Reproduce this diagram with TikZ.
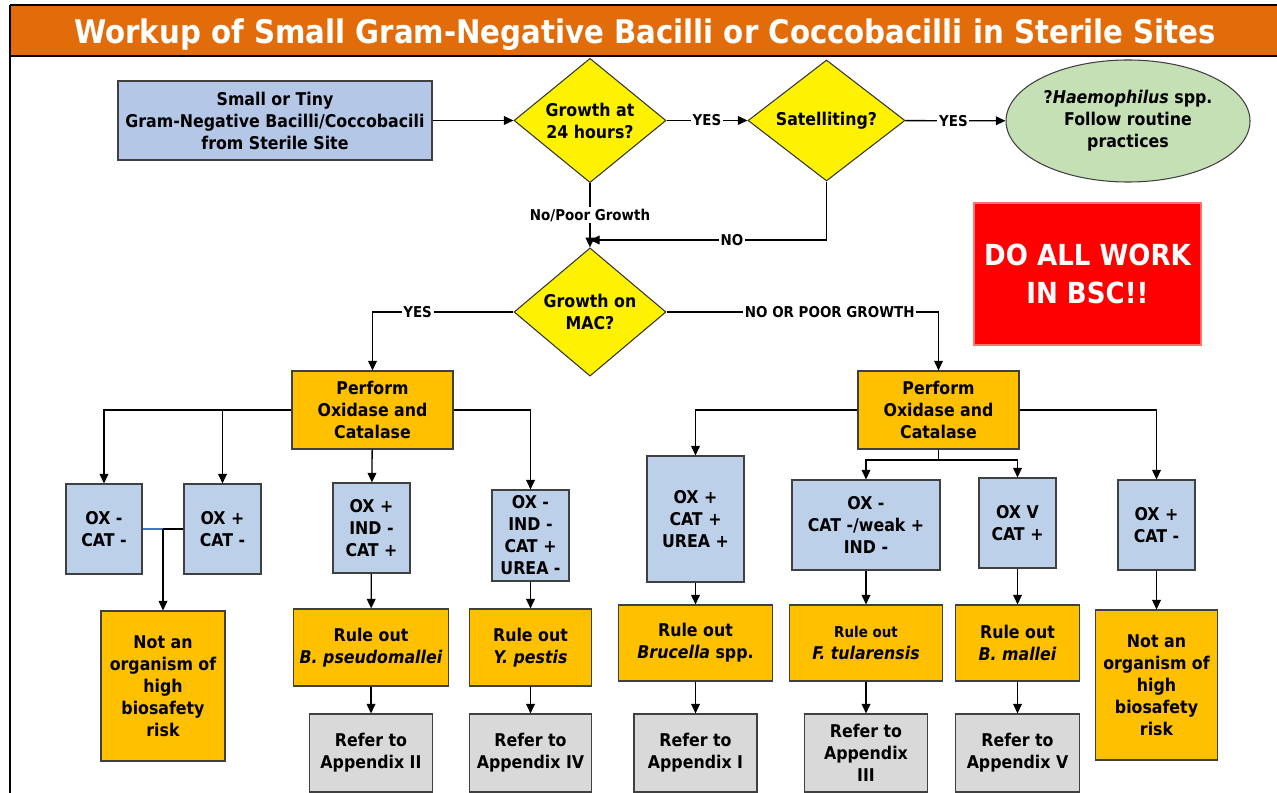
\documentclass[tikz,border=0pt]{standalone}
\usepackage{fontspec}
\setmainfont{DejaVu Sans Condensed}
\usetikzlibrary{shapes.geometric,arrows.meta}
\definecolor{titleorange}{HTML}{E36C0A}
\definecolor{startblue}{HTML}{B4C7E7}
\definecolor{testblue}{HTML}{BDD0E9}
\definecolor{amber}{HTML}{FFC000}
\definecolor{refgray}{HTML}{D9D9D9}
\definecolor{leafgreen}{HTML}{C5E0B4}
\definecolor{linkblue}{HTML}{4472C4}
\tikzset{
  wh/.style 2 args={minimum width=#1*0.02cm, minimum height=#2*0.02cm},
  base/.style={draw=black!75, line width=0.6pt, align=center, inner sep=0pt,
    font=\fontsize{10}{12.5}\selectfont\bfseries},
  startbox/.style={base, fill=startblue},
  question/.style={base, diamond, fill=yellow, draw=black!80},
  testbox/.style={base, fill=testblue},
  actbox/.style={base, fill=amber},
  refbox/.style={base, fill=refgray},
  arr/.style={-{Triangle[length=5.5pt,width=5pt]}, line width=0.75pt},
  link/.style={line width=0.75pt},
  lbl/.style={fill=white, inner sep=1pt, font=\fontsize{8.5}{10}\selectfont\bfseries},
}
\begin{document}
\begin{tikzpicture}[x=0.02cm, y=-0.02cm]
\useasboundingbox (0,0) rectangle (1277,793);

% title bar and frame
\fill[titleorange] (10,6) rectangle (1277,55);
\draw[line width=1.2pt] (10,5) -- (1277,5);
\draw[line width=1.2pt] (10,56) -- (1277,56);
\draw[line width=1.2pt] (10,5) -- (10,793);
\node[text=white, font=\fontsize{18.5}{22}\selectfont\bfseries] (title) at (645,35)
  {Workup of Small Gram-Negative Bacilli or Coccobacilli in Sterile Sites};

% top row
\node[startbox, wh={314}{79}] (start) at (275,120.5) {Small or Tiny\\Gram-Negative Bacilli/Coccobacili\\from Sterile Site};
\node[question, wh={152}{121}] (grow24) at (590,120.5) {Growth at\\24 hours?};
\node[question, wh={157}{121}] (satel) at (826.5,120.5) {Satelliting?};
\node[base, ellipse, fill=leafgreen, wh={244}{122}] (haem) at (1128,121) {?\textit{Haemophilus} spp.\\Follow routine\\practices};
\node[base, fill=red, draw=red!55, text=white, wh={227}{142},
  font=\fontsize{16.5}{21.5}\selectfont\bfseries] (bsc) at (1087.5,274) {DO ALL WORK\\IN BSC!!};

\node[question, wh={152}{122}] (mac) at (590,312) {Growth on\\MAC?};
\coordinate (merge) at (590,240);

% oxidase / catalase
\node[actbox, wh={161}{78}] (oxcatL) at (372.5,410) {Perform\\Oxidase and\\Catalase};
\node[actbox, wh={161}{78}] (oxcatR) at (938.5,410) {Perform\\Oxidase and\\Catalase};

% test results
\node[testbox, wh={76}{90}] (tA) at (104,529) {OX -\\CAT -};
\node[testbox, wh={77}{90}] (tB) at (222.5,529) {OX +\\CAT -};
\node[testbox, wh={77}{90}] (tC) at (371.5,528) {OX +\\IND -\\CAT +};
\node[testbox, wh={77}{91}] (tD) at (530.5,535.5) {OX -\\IND -\\CAT +\\UREA -};
\node[testbox, wh={97}{126}] (tE) at (695.5,519) {OX +\\CAT +\\UREA +};
\node[testbox, wh={148}{90}] (tF) at (866,525) {OX -\\CAT -/weak +\\IND -};
\node[testbox, wh={77}{90}] (tG) at (1017.5,523) {OX V\\CAT +};
\node[testbox, wh={77}{90}] (tH) at (1156.5,525) {OX +\\CAT -};
\coordinate (ab) at (163,529);
\coordinate (split) at (938.5,460);

% rule out
\node[actbox, wh={124}{150}] (notL) at (163,686) {Not an\\organism of\\high\\biosafety\\risk};
\node[actbox, wh={155}{77}] (roBp) at (371,647.5) {Rule out\\\textit{B. pseudomallei}};
\node[actbox, wh={122}{77}] (roYp) at (530.5,647.5) {Rule out\\\textit{Y. pestis}};
\node[actbox, wh={154}{76}] (roBr) at (695.5,643) {Rule out\\\textit{Brucella} spp.};
\node[actbox, wh={153}{76}] (roFt) at (866,643) {{\fontsize{8.5}{10}\selectfont Rule out}\\\textit{F. tularensis}};
\node[actbox, wh={124}{76}] (roBm) at (1017.5,643) {Rule out\\\textit{B. mallei}};
\node[actbox, wh={122}{150}] (notR) at (1156.5,685) {Not an\\organism of\\high\\biosafety\\risk};

% appendices
\node[refbox, wh={123}{78}] (refII) at (371,753) {Refer to\\Appendix II};
\node[refbox, wh={122}{78}] (refIV) at (530.5,753) {Refer to\\Appendix IV};
\node[refbox, wh={123}{78}] (refI) at (695.5,753) {Refer to\\Appendix I};
\node[refbox, wh={123}{78}] (refIII) at (866,753) {Refer to\\Appendix\\III};
\node[refbox, wh={124}{78}] (refV) at (1017.5,753) {Refer to\\Appendix V};

% connectors
\draw[arr] (start) -- (grow24);
\draw[arr] (grow24) -- node[lbl]{YES} (satel);
\draw[arr] (satel) -- node[lbl, pos=0.48]{YES} (haem);
\draw[arr] (grow24.south) -- node[lbl]{No/Poor Growth} (mac.north);
\draw[arr] (satel.south) |- node[lbl, pos=0.7]{NO} (merge);
\draw[arr] (mac.west) -| node[lbl, pos=0.34]{YES} (oxcatL.north);
\draw[arr] (mac.east) -| node[lbl, pos=0.3]{NO OR POOR GROWTH} (oxcatR.north);

\draw[arr] (oxcatL.west) -| (tA.north);
\draw[arr] (oxcatL.west -| tB.north) -- (tB.north);
\draw[arr] (oxcatL) -- (tC);
\draw[arr] (oxcatL.east) -| (tD.north);
\draw[link, linkblue] (tA.east) -- (ab);
\draw[link] (ab) -- (tB.west);
\draw[arr] (ab) -- (notL.north);

\draw[arr] (oxcatR.west) -| (tE.north);
\draw[arr] (oxcatR.east) -| (tH.north);
\draw[link] (oxcatR.south) -- (split);
\draw[arr] (split) -| (tF.north);
\draw[arr] (split) -| (tG.north);

\draw[arr] (tC) -- (roBp);
\draw[arr] (tD) -- (roYp);
\draw[arr] (tE) -- (roBr);
\draw[arr] (tF) -- (roFt);
\draw[arr] (tG) -- (roBm);
\draw[arr] (tH) -- (notR);
\draw[arr] (roBp) -- (refII);
\draw[arr] (roYp) -- (refIV);
\draw[arr] (roBr) -- (refI);
\draw[arr] (roFt) -- (refIII);
\draw[arr] (roBm) -- (refV);
\end{tikzpicture}
\end{document}
